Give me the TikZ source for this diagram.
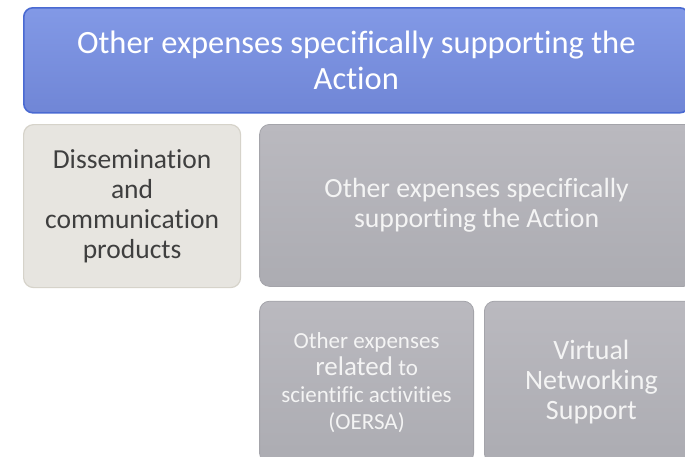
\documentclass[tikz,border=0pt]{standalone}
\usepackage{fontspec}
\setmainfont[Ligatures=NoCommon]{Carlito}
\usepackage{tikz}
\usetikzlibrary{positioning}
\definecolor{headTop}{HTML}{8299E6}
\definecolor{headBot}{HTML}{7086D6}
\definecolor{headLine}{HTML}{4A6AD2}
\definecolor{paleFill}{HTML}{E7E5E0}
\definecolor{paleLine}{HTML}{D6D3CA}
\definecolor{paleText}{HTML}{3F3F3F}
\definecolor{greyTop}{HTML}{BAB9BF}
\definecolor{greyBot}{HTML}{ACACB2}
\definecolor{greyLine}{HTML}{A4A4AA}
\definecolor{greyText}{HTML}{F4F4F4}

\begin{document}
\begin{tikzpicture}[
  x=1pt, y=-1pt,
  headbox/.style={draw=headLine, line width=1.6pt, rounded corners=9pt,
                  top color=headTop, bottom color=headBot, text=white,
                  align=center, inner sep=0pt,
                  minimum width=665pt, minimum height=105pt},
  palebox/.style={draw=paleLine, line width=1.2pt, rounded corners=10pt,
                  fill=paleFill, text=paleText, align=center, inner sep=0pt,
                  minimum width=217pt, minimum height=163pt},
  greybox/.style={draw=greyLine, line width=0.8pt, rounded corners=10pt,
                  top color=greyTop, bottom color=greyBot, text=greyText,
                  align=center, inner sep=0pt, minimum height=162pt}
]
  \useasboundingbox (0,0) rectangle (685,456);
  \clip (0,0) rectangle (685,456);

  % Header bar, runs off the right edge
  \node[headbox, anchor=north west, font=\fontsize{32.5}{36}\selectfont]
    (head) at (23,7) {Other expenses specifically supporting the\\Action};

  % Row 1: pale item, then the grey group box
  \node[palebox, anchor=north west, font=\fontsize{27.5}{30}\selectfont]
    (diss) at (23,124) {Dissemination\\and\\communication\\products};
  \node[greybox, minimum width=434pt, right=18pt of diss.north east,
        anchor=north west, font=\fontsize{27.75}{30}\selectfont]
    (action) {Other expenses specifically\\supporting the Action};

  % Row 2: the two sub-items under the grey box
  \node[greybox, minimum width=214pt, below=14pt of action.south west,
        anchor=north west, font=\fontsize{23}{27}\selectfont] (oersa) {%
    Other expenses\\
    {\fontsize{27}{28}\selectfont related} to\\
    scientific activities\\(OERSA)};
  \node[greybox, minimum width=214pt, right=10pt of oersa.north east,
        anchor=north west, font=\fontsize{28}{30}\selectfont]
    (vns) {Virtual\\Networking\\Support};
\end{tikzpicture}
\end{document}
